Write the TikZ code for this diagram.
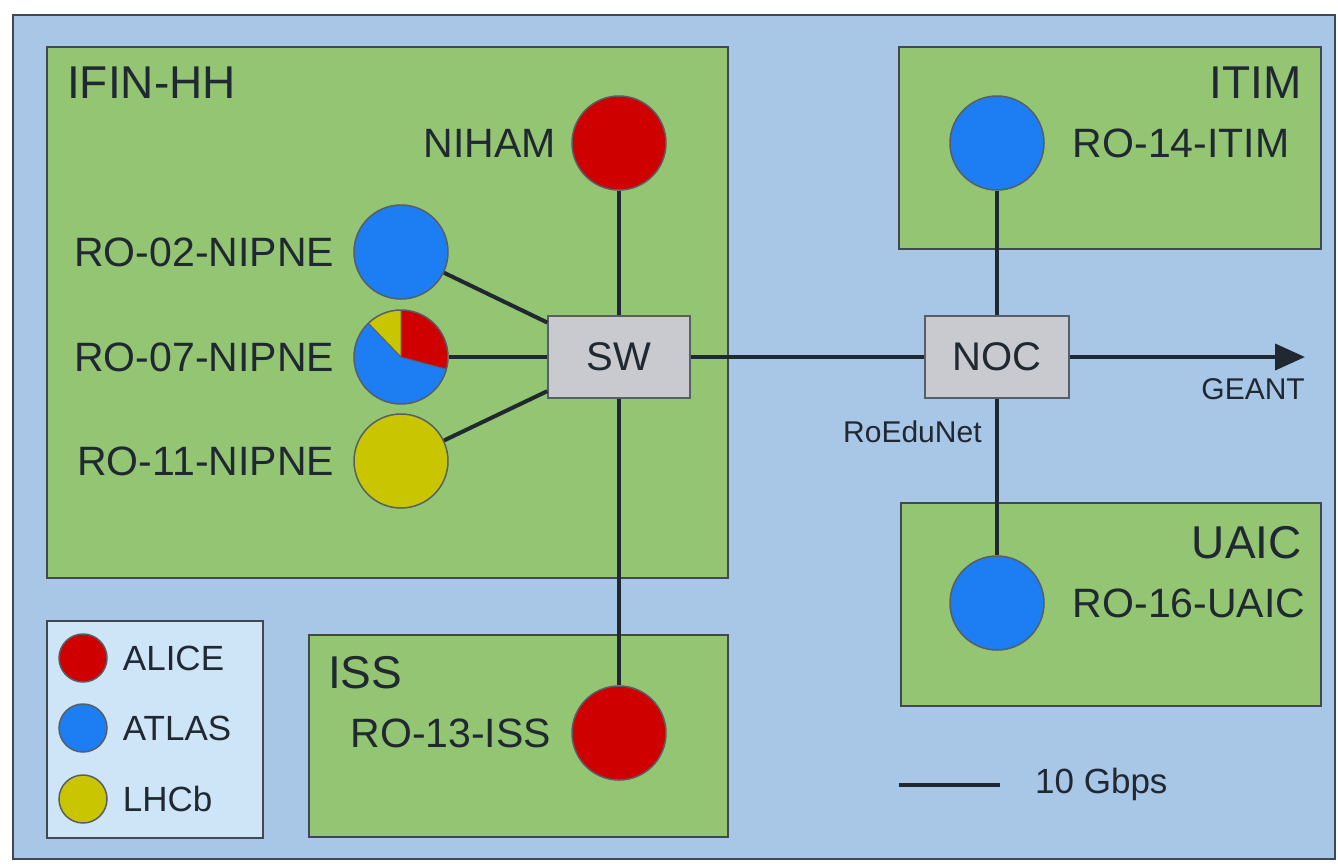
\documentclass[tikz,border=0pt]{standalone}
\usepackage{fontspec}
\setmainfont{Liberation Sans}
\usetikzlibrary{positioning,arrows.meta}
\definecolor{bgblue}{RGB}{168,198,230}
\definecolor{sitegreen}{RGB}{148,197,114}
\definecolor{legblue}{RGB}{206,229,248}
\definecolor{swgray}{RGB}{201,201,208}
\definecolor{alice}{RGB}{206,0,0}
\definecolor{atlas}{RGB}{28,126,242}
\definecolor{lhcb}{RGB}{201,197,0}
\definecolor{ink}{RGB}{32,40,50}
\newcommand{\fsz}[1]{\fontsize{#1}{#1}\selectfont}

\begin{document}
\begin{tikzpicture}[x=1pt,y=-1pt,
  every node/.style={text=ink},
  site/.style={draw=ink!85,line width=1.5pt,fill=sitegreen,anchor=north west,inner sep=0},
  sitename/.style={font=\fsz{46},inner sep=0},
  lbl/.style={font=\fsz{41},inner sep=0},
  leglbl/.style={font=\fsz{35},inner sep=0},
  netlbl/.style={font=\fsz{30},inner sep=0},
  tier/.style={circle,draw=ink!75,line width=1.5pt,minimum size=94pt,inner sep=0},
  switchbox/.style={draw=ink!75,line width=1.5pt,fill=swgray,minimum width=142pt,minimum height=82pt,font=\fsz{40}},
  wire/.style={line width=4pt,draw=ink}]
  \useasboundingbox (0,0) rectangle (1338,863);
  % Background
  \draw[line width=2pt,draw=ink!85,fill=bgblue] (13,15) rectangle (1335,859);
  % Sites
  \node (ifin) [site,minimum width=681pt,minimum height=531pt] at (46,46) {};
  \node (itim) [site,minimum width=422pt,minimum height=202pt] at (898,46) {};
  \node (uaic) [site,minimum width=420pt,minimum height=203pt] at (900,502) {};
  \node (iss) [site,minimum width=419pt,minimum height=202pt] at (308,634) {};
  \node (legend) [site,fill=legblue,minimum width=216pt,minimum height=217pt] at (46,620) {};
  \node[sitename,anchor=base west] at (67,98) {IFIN-HH};
  \node[sitename,anchor=base east] at (1302,98) {ITIM};
  \node[sitename,anchor=base east] at (1302,558) {UAIC};
  \node[sitename,anchor=base west] at (328,688) {ISS};
  % Switches
  \node (sw) [switchbox] at (619,357) {SW};
  \node (noc) [switchbox,minimum width=144pt] at (997,357) {NOC};
  % Grid sites
  \node (niham) [tier,fill=alice] at (619,143) {};
  \node (ro02) [tier,fill=atlas] at (401,252) {};
  \fill[alice] (401,357) -- ++(90:47pt) arc[start angle=90,end angle=-15,radius=47pt] -- cycle;
  \fill[atlas] (401,357) -- ++(-15:47pt) arc[start angle=-15,end angle=-226,radius=47pt] -- cycle;
  \fill[lhcb] (401,357) -- ++(134:47pt) arc[start angle=134,end angle=90,radius=47pt] -- cycle;
  \draw[ink!75,line width=1pt] (401,357) -- ++(90:47pt) (401,357) -- ++(-15:47pt) (401,357) -- ++(134:47pt);
  \node (ro07) [tier] at (401,357) {};
  \node (ro11) [tier,fill=lhcb] at (401,461) {};
  \node (ro13) [tier,fill=alice] at (619,733) {};
  \node (ro14) [tier,fill=atlas] at (997,143) {};
  \node (ro16) [tier,fill=atlas] at (997,603) {};
  \node[lbl,left=15pt of niham] {NIHAM};
  \node[lbl,left=19pt of ro02] {RO-02-NIPNE};
  \node[lbl,left=19pt of ro07] {RO-07-NIPNE};
  \node[lbl,left=19pt of ro11] {RO-11-NIPNE};
  \node[lbl,left=20pt of ro13] {RO-13-ISS};
  \node[lbl,right=28pt of ro14] {RO-14-ITIM};
  \node[lbl,right=28pt of ro16] {RO-16-UAIC};
  % Links
  \foreach \x/\y in {
    niham/sw,ro02/sw,ro07/sw,ro11/sw,sw/ro13,
    sw/noc,noc/ro14,noc/ro16}
    \draw[wire] (\x)--(\y);
  \coordinate (geant) at (1305,357);
  \draw[wire,-{Triangle[length=30pt,width=26pt]}] (noc) -- (geant);
  \node[netlbl,anchor=base east] at (1305,399) {GEANT};
  \node[netlbl,anchor=base west] at (843,442) {RoEduNet};
  % Legend
  \node (alice) [tier,fill=alice,minimum size=48pt] at (83,658) {};
  \node (atlas) [tier,fill=atlas,minimum size=48pt] at (83,728) {};
  \node (lhcb) [tier,fill=lhcb,minimum size=48pt] at (83,799) {};
  \node[leglbl,right=15pt of alice] {ALICE};
  \node[leglbl,right=15pt of atlas] {ATLAS};
  \node[leglbl,right=15pt of lhcb] {LHCb};
  \coordinate (scalea) at (899,785);
  \coordinate (scaleb) at (1000,785);
  \draw[wire] (scalea) -- (scaleb);
  \node[leglbl,anchor=base west] at (1035,793) {10 Gbps};
\end{tikzpicture}
\end{document}
